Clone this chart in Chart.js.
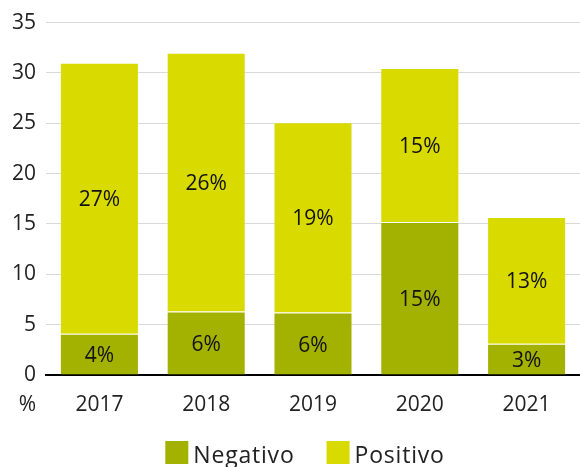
<!DOCTYPE html>
<html lang="es">
<head>
<meta charset="utf-8">
<script src="https://cdn.jsdelivr.net/npm/chart.js@4/dist/chart.umd.min.js"></script>
<style>
    html, body { margin: 0; padding: 0; background: #fff; }
    #wrap { width: 580px; height: 467px; }
</style>
</head>
<body>
<div id="wrap"><canvas id="chart"></canvas></div>
<script>
// ===========================
// DATA
// ===========================

const years = ["2017", "2018", "2019", "2020", "2021"];
const negativo = [4.1, 6.3, 6.2, 15.2, 3.1];
const positivo = [26.9, 25.7, 18.9, 15.3, 12.6];
const yTicks = [0, 5, 10, 15, 20, 25, 30, 35];

const colorNeg = "#a3b100";
const colorPos = "#d8da00";
const fontFamily = "'Open Sans', sans-serif";

// ===========================
// PLUGINS
// ===========================

// Percent label in the middle of every stacked segment
const segmentLabels = {
    id: "segmentLabels",
    afterDatasetsDraw(chart) {
        const ctx = chart.ctx;
        ctx.save();
        ctx.font = "21px " + fontFamily;
        ctx.fillStyle = "#111";
        ctx.textAlign = "center";
        ctx.textBaseline = "middle";
        chart.data.datasets.forEach((ds, i) => {
            chart.getDatasetMeta(i).data.forEach((bar, j) => {
                const y = (bar.y + bar.base) / 2;
                ctx.fillText(Math.round(ds.data[j]) + "%", bar.x, y + 2);
            });
        });
        ctx.restore();
    }
};

// Unit sign under the y axis, on the row of the year labels
const unitSign = {
    id: "unitSign",
    afterDraw(chart) {
        const ctx = chart.ctx;
        const yAxis = chart.scales.y;
        const xAxis = chart.scales.x;
        ctx.save();
        ctx.font = "21px " + fontFamily;
        ctx.fillStyle = "#222";
        ctx.textAlign = "right";
        ctx.textBaseline = "middle";
        ctx.fillText("%", yAxis.right - 10, xAxis.top + 30);
        ctx.restore();
    }
};

// Legend row at the bottom edge, drawn by hand so the spacing can be set freely
const bottomLegend = {
    id: "bottomLegend",
    afterDraw(chart) {
        const ctx = chart.ctx;
        const box = 23, gapText = 5, gapItem = 32;
        const top = chart.scales.x.bottom + 23;
        ctx.save();
        ctx.font = "23px " + fontFamily;
        ctx.letterSpacing = "0.8px";
        const items = chart.data.datasets.map(ds => ({
            text: ds.label,
            color: ds.backgroundColor,
            w: ctx.measureText(ds.label).width
        }));
        const total = items.reduce((s, it) => s + box + gapText + it.w, 0) + gapItem * (items.length - 1);
        let x = (chart.chartArea.left + chart.chartArea.right) / 2 - total / 2 - 8;
        ctx.textBaseline = "middle";
        ctx.textAlign = "left";
        items.forEach(it => {
            ctx.fillStyle = it.color;
            ctx.fillRect(x, top, box, box);
            x += box + gapText;
            ctx.fillStyle = "#222";
            ctx.fillText(it.text, x, top + box / 2 + 4);
            x += it.w + gapItem;
        });
        ctx.restore();
    }
};

// ===========================
// CHART
// ===========================

new Chart(document.getElementById("chart"), {
    type: "bar",
    data: {
        labels: years,
        datasets: [
            {
                label: "Negativo",
                data: negativo,
                backgroundColor: colorNeg,
                borderColor: "rgba(255,255,255,0.25)",
                borderWidth: 1,
                borderSkipped: "bottom"
            },
            {
                label: "Positivo",
                data: positivo,
                backgroundColor: colorPos,
                borderColor: "rgba(255,255,255,0.25)",
                borderWidth: 1,
                borderSkipped: "bottom"
            }
        ]
    },
    options: {
        responsive: true,
        maintainAspectRatio: false,
        animation: false,
        layout: { padding: { top: 10, right: 0, bottom: 49, left: 0 } },
        datasets: {
            bar: { barPercentage: 0.74, categoryPercentage: 1 }
        },
        scales: {
            x: {
                stacked: true,
                afterFit(axis) { axis.height = 43; },
                grid: { display: false, drawTicks: false },
                border: { color: "#000", width: 2 },
                ticks: {
                    color: "#222",
                    padding: 17,
                    maxRotation: 0,
                    font: { family: fontFamily, size: 21 }
                }
            },
            y: {
                stacked: true,
                min: 0,
                max: 35,
                afterFit(axis) { axis.width = 46; },
                afterBuildTicks(axis) { axis.ticks = yTicks.map(v => ({ value: v })); },
                grid: { color: "#d9d9d9", lineWidth: 1, drawTicks: false },
                border: { display: false },
                ticks: {
                    color: "#222",
                    padding: 10,
                    font: { family: fontFamily, size: 21 }
                }
            }
        },
        plugins: {
            legend: { display: false },
            tooltip: { enabled: false }
        }
    },
    plugins: [segmentLabels, unitSign, bottomLegend]
});
</script>
</body>
</html>
